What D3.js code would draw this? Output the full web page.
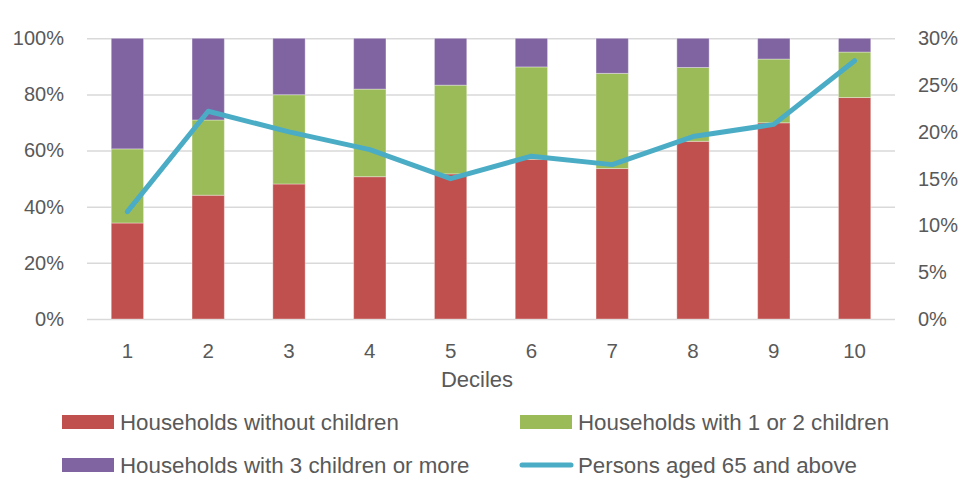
<!DOCTYPE html>
<html>
<head>
<meta charset="utf-8">
<script src="https://cdn.jsdelivr.net/npm/d3@7"></script>
<style>
  html, body { margin: 0; padding: 0; background: #fff; }
  svg text { font-family: "Liberation Sans", Arial, sans-serif; fill: #595959; }
</style>
</head>
<body>
<svg id="chart" width="963" height="479"></svg>
<script>
const deciles = ["1","2","3","4","5","6","7","8","9","10"];
const withoutChildren = [0.342, 0.441, 0.481, 0.507, 0.517, 0.569, 0.536, 0.633, 0.699, 0.789];
const oneOrTwoChildren = [0.264, 0.268, 0.318, 0.312, 0.316, 0.329, 0.339, 0.263, 0.227, 0.162];
const threeOrMore = [0.394, 0.291, 0.201, 0.181, 0.167, 0.102, 0.125, 0.104, 0.074, 0.049];
const aged65 = [0.1147, 0.222, 0.200, 0.181, 0.150, 0.174, 0.165, 0.195, 0.208, 0.276];
const leftTicks = [0, 0.2, 0.4, 0.6, 0.8, 1.0];
const rightTicks = [0, 0.05, 0.10, 0.15, 0.20, 0.25, 0.30];
const seriesNames = ["Households without children", "Households with 1 or 2 children", "Households with 3 children or more", "Persons aged 65 and above"];
const colors = ["#c0504d", "#9bbb59", "#8064a2", "#4bacc6"];

const svg = d3.select("#chart");
const plotLeft = 87, plotRight = 895, plotTop = 38.3, plotBottom = 319;

const x = d3.scaleBand().domain(deciles).range([plotLeft, plotRight]).paddingInner(0.6).paddingOuter(0.3);
const y = d3.scaleLinear().domain([0, 1]).range([plotBottom, plotTop]);
const y2 = d3.scaleLinear().domain([0, 0.3]).range([plotBottom, plotTop]);

// gridlines
const grid = svg.append("g").attr("transform", `translate(${plotLeft},0)`)
  .call(d3.axisLeft(y).tickValues(leftTicks).tickSize(-(plotRight - plotLeft)).tickFormat(""));
grid.select(".domain").remove();
grid.selectAll("line").attr("stroke", "#d9d9d9").attr("stroke-width", 1.5);

// left axis labels
const ya = svg.append("g").attr("transform", `translate(${plotLeft},0)`)
  .call(d3.axisLeft(y).tickValues(leftTicks).tickSize(0).tickPadding(23).tickFormat(d3.format(".0%")));
ya.select(".domain").remove();
ya.selectAll("text").style("font-size", "20px").attr("fill", "#595959");

// right axis labels
const yb = svg.append("g").attr("transform", `translate(${plotRight},0)`)
  .call(d3.axisRight(y2).tickValues(rightTicks).tickSize(0).tickPadding(23).tickFormat(d3.format(".0%")));
yb.select(".domain").remove();
yb.selectAll("text").style("font-size", "20px").attr("fill", "#595959");

// x axis labels
const xa = svg.append("g").attr("transform", `translate(0,${plotBottom})`)
  .call(d3.axisBottom(x).tickSize(0).tickPadding(24));
xa.select(".domain").remove();
xa.selectAll("text").style("font-size", "20.5px").attr("fill", "#595959");

svg.append("text").attr("x", 477).attr("y", 387).attr("text-anchor", "middle")
  .style("font-size", "22px").text("Deciles");

// stacked bars
const rows = deciles.map((d, i) => ({ decile: d, a: withoutChildren[i], b: oneOrTwoChildren[i], c: threeOrMore[i] }));
const stack = d3.stack().keys(["a", "b", "c"])(rows);
svg.append("g").selectAll("g").data(stack).join("g")
  .attr("fill", (d, i) => colors[i])
  .selectAll("rect").data(d => d).join("rect")
  .attr("x", d => x(d.data.decile))
  .attr("width", x.bandwidth())
  .attr("y", d => y(d[1]))
  .attr("height", d => y(d[0]) - y(d[1]))
  .attr("stroke", "#ffffff").attr("stroke-opacity", 0.35).attr("stroke-width", 1);

// line
const line = d3.line().x((d, i) => x(deciles[i]) + x.bandwidth() / 2).y(d => y2(d));
svg.append("path").datum(aged65).attr("d", line)
  .attr("fill", "none").attr("stroke", colors[3]).attr("stroke-width", 5)
  .attr("stroke-linejoin", "round").attr("stroke-linecap", "round");

// legend
const legendItems = [
  { x: 62, y: 422, i: 0 },
  { x: 520, y: 422, i: 1 },
  { x: 62, y: 465, i: 2 },
  { x: 520, y: 465, i: 3 }
];
const lg = svg.append("g");
legendItems.forEach(it => {
  if (it.i < 3) {
    lg.append("rect").attr("x", it.x).attr("y", it.y - 7).attr("width", 52).attr("height", 14).attr("fill", colors[it.i]);
  } else {
    lg.append("line").attr("x1", it.x + 2).attr("x2", it.x + 51).attr("y1", it.y).attr("y2", it.y)
      .attr("stroke", colors[3]).attr("stroke-width", 5).attr("stroke-linecap", "round");
  }
  lg.append("text").attr("x", it.x + 58).attr("y", it.y + 8).style("font-size", "22.3px").text(seriesNames[it.i]);
});
</script>
</body>
</html>
